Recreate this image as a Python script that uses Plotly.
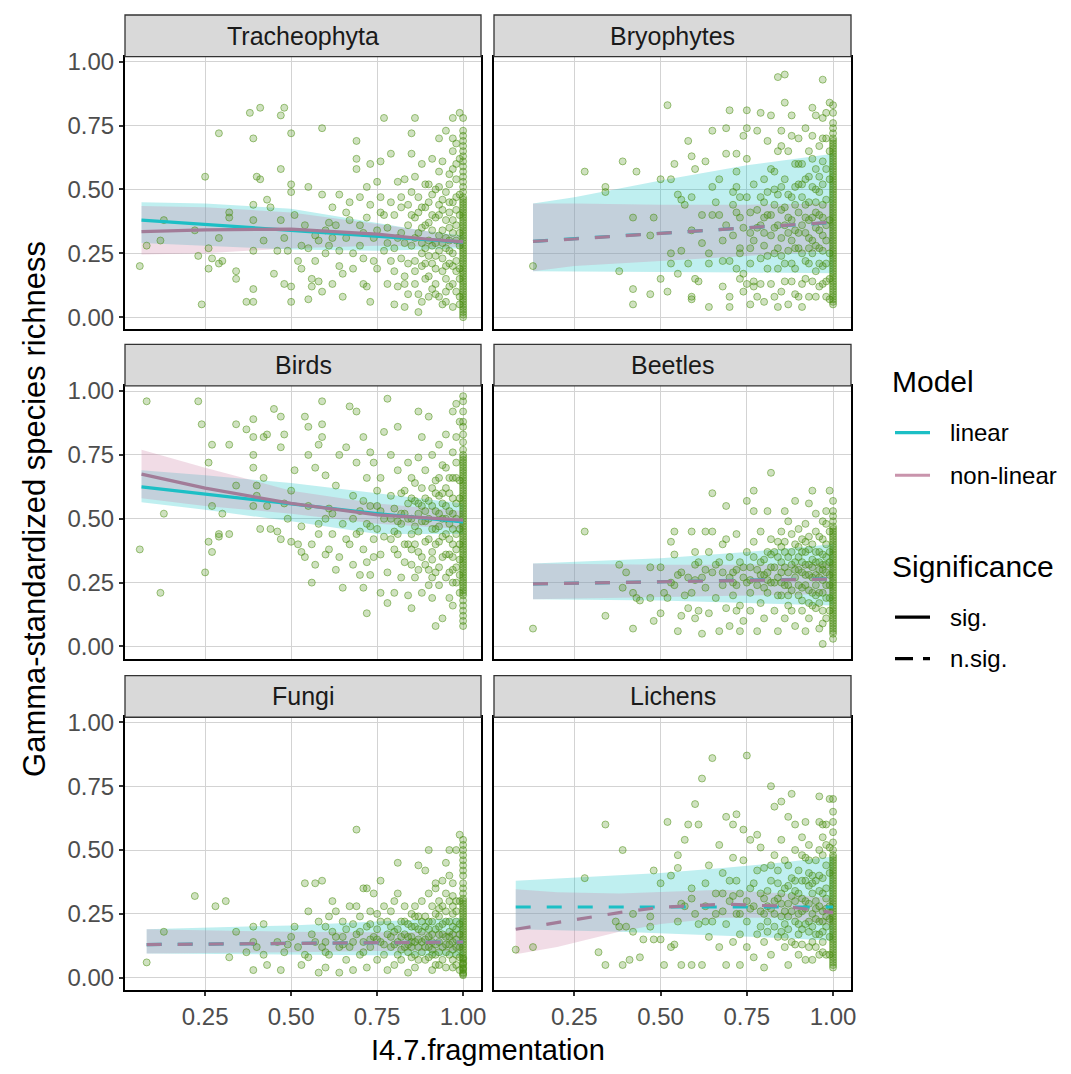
import plotly.graph_objects as go

# ---------------- data ----------------
X_TICKS = [0.25, 0.50, 0.75, 1.00]
X_TICK_TEXT = ["0.25", "0.50", "0.75", "1.00"]
Y_TICKS = [0.0, 0.25, 0.50, 0.75, 1.00]
Y_TICK_TEXT = ["0.00", "0.25", "0.50", "0.75", "1.00"]

PANEL_NAMES = ["Tracheophyta", "Bryophytes", "Birds", "Beetles", "Fungi", "Lichens"]
PANEL_SIG = ["sig.", "n.sig.", "sig.", "n.sig.", "n.sig.", "n.sig."]

TRACH_PTS = [
(0.06,0.20),(0.08,0.28),(0.12,0.30),(0.13,0.38),(0.22,0.34),(0.23,0.24),(0.24,0.05),(0.25,0.55),(0.26,0.27),(0.27,0.23),
(0.26,0.19),(0.29,0.72),(0.29,0.31),(0.29,0.21),(0.30,0.22),(0.32,0.39),(0.32,0.41),(0.34,0.18),(0.34,0.15),(0.37,0.06),
(0.38,0.80),(0.39,0.70),(0.39,0.44),(0.39,0.38),(0.39,0.11),(0.39,0.06),(0.39,0.26),(0.40,0.55),(0.41,0.82),(0.41,0.54),
(0.42,0.30),(0.43,0.46),(0.44,0.43),(0.45,0.17),(0.46,0.26),(0.47,0.79),(0.47,0.58),(0.48,0.82),(0.47,0.38),(0.48,0.13),
(0.48,0.31),(0.49,0.26),(0.50,0.72),(0.50,0.52),(0.50,0.49),(0.50,0.12),(0.50,0.06),(0.51,0.40),(0.52,0.22),(0.53,0.19),
(0.54,0.36),(0.55,0.27),(0.55,0.51),(0.55,0.07),(0.56,0.15),(0.56,0.12),(0.57,0.22),(0.58,0.30),(0.58,0.14),(0.59,0.48),
(0.59,0.74),(0.59,0.10),(0.60,0.34),(0.60,0.25),(0.61,0.28),(0.62,0.43),(0.62,0.13),(0.63,0.36),(0.64,0.26),(0.64,0.48),
(0.65,0.08),(0.65,0.17),(0.66,0.31),(0.67,0.38),(0.68,0.19),(0.69,0.62),(0.69,0.58),(0.69,0.69),(0.70,0.47),(0.70,0.28),
(0.71,0.13),(0.71,0.23),(0.72,0.39),(0.72,0.51),(0.72,0.12),(0.73,0.06),(0.73,0.60),(0.74,0.31),(0.75,0.53),(0.75,0.19),
(0.76,0.61),(0.76,0.41),(0.77,0.78),(0.77,0.26),(0.78,0.13),(0.78,0.35),(0.79,0.64),(0.79,0.45),(0.80,0.18),(0.80,0.05),
(0.81,0.53),(0.81,0.31),(0.82,0.23),(0.82,0.43),(0.83,0.13),(0.83,0.54),(0.83,0.04),(0.84,0.36),(0.84,0.21),(0.85,0.72),
(0.85,0.49),(0.85,0.64),(0.85,0.28),(0.86,0.39),(0.86,0.78),(0.86,0.13),(0.87,0.47),(0.87,0.02),(0.88,0.60),(0.88,0.25),
(0.88,0.35),(0.89,0.15),(0.89,0.52),(0.89,0.43),(0.90,0.08),(0.90,0.30),(0.91,0.62),(0.91,0.21),(0.91,0.48),(0.92,0.39),
(0.92,0.13),(0.93,0.57),(0.93,0.26),(0.93,0.70),(0.93,0.44),(0.94,0.05),(0.94,0.34),(0.94,0.18),(0.94,0.61),(0.95,0.49),
(0.95,0.73),(0.95,0.27),(0.95,0.10),(0.96,0.41),(0.96,0.56),(0.96,0.21),(0.96,0.35),(0.97,0.65),(0.97,0.04),(0.97,0.45),
(0.97,0.25),(0.97,0.78),(0.97,0.13),(0.98,0.54),(0.98,0.36),(0.98,0.18),(0.98,0.60),(0.99,0.28),(0.99,0.48),(0.99,0.80),
(0.99,0.08),(0.80,0.40),(0.82,0.33),(0.84,0.44),(0.86,0.31),(0.88,0.20),(0.90,0.37),(0.92,0.29),(0.94,0.42),(0.96,0.30),
(0.98,0.22),(0.75,0.34),(0.78,0.29),(0.70,0.36),(0.66,0.41),(0.62,0.31),(0.90,0.16),(0.92,0.09),(0.95,0.06),(0.97,0.33),
(0.99,0.40),(0.87,0.09),(0.83,0.16),(0.79,0.22),(0.76,0.47),(0.89,0.27),(0.91,0.34),(0.93,0.51),(0.95,0.38),(0.98,0.47),
(0.99,0.15),(0.80,0.27),(0.81,0.12),(0.82,0.47),(0.83,0.29),(0.84,0.09),(0.85,0.40),(0.86,0.22),(0.86,0.55),(0.87,0.33),
(0.88,0.43),(0.88,0.06),(0.89,0.36),(0.90,0.24),(0.90,0.45),(0.91,0.11),(0.91,0.28),(0.92,0.50),(0.92,0.19),(0.93,0.32),
(0.93,0.08),(0.94,0.46),(0.94,0.23),(0.95,0.31),(0.95,0.15),(0.96,0.52),(0.96,0.26),(0.96,0.12),(0.97,0.38),(0.97,0.20),
(0.97,0.58),(0.98,0.30),(0.98,0.10),(0.98,0.42),(0.99,0.33),(0.99,0.19),(0.99,0.62),(0.99,0.05),(0.98,0.68),(0.97,0.70),
(0.96,0.45),(0.95,0.20),(0.94,0.29),(0.93,0.40),(0.92,0.24),(0.91,0.40),(0.90,0.52),(0.89,0.21),(0.88,0.29),(0.87,0.41),
(0.86,0.18),(0.77,0.40),(0.74,0.22),(0.73,0.44),(0.71,0.33),(0.68,0.25),(0.67,0.45),(0.64,0.20),(0.61,0.37),(0.57,0.32),
(0.53,0.28),
]
TRACH_EDGE = [0.00,0.01,0.02,0.03,0.04,0.05,0.06,0.07,0.08,0.09,0.10,0.11,0.12,0.13,0.14,0.15,0.16,0.17,0.18,0.19,0.20,
              0.21,0.22,0.23,0.24,0.25,0.26,0.27,0.28,0.29,0.30,0.31,0.32,0.33,0.34,0.35,0.36,0.37,0.38,0.39,0.40,0.41,
              0.42,0.43,0.44,0.45,0.46,0.47,0.49,0.51,0.53,0.55,0.57,0.59,0.61,0.63,0.65,0.67,0.69,0.71,0.73,0.78]
# columns: x, linear, linear low, linear high, non-linear, non-linear low, non-linear high
TRACH_FIT = [
(0.065, 0.380, 0.290, 0.450, 0.335, 0.245, 0.435),
(0.25,  0.363, 0.280, 0.445, 0.342, 0.250, 0.430),
(0.50,  0.340, 0.265, 0.425, 0.345, 0.270, 0.410),
(0.75,  0.317, 0.260, 0.370, 0.325, 0.280, 0.365),
(0.90,  0.303, 0.265, 0.335, 0.305, 0.278, 0.335),
(1.00,  0.294, 0.270, 0.320, 0.295, 0.275, 0.315),
]

BRYO_PTS = [
(0.13,0.20),(0.28,0.57),(0.34,0.51),(0.34,0.49),(0.38,0.18),(0.39,0.61),(0.42,0.11),(0.42,0.39),(0.42,0.05),(0.43,0.57),
(0.47,0.09),(0.48,0.39),(0.47,0.32),(0.50,0.15),(0.50,0.54),(0.52,0.10),(0.52,0.83),(0.53,0.25),(0.53,0.21),(0.53,0.54),
(0.54,0.60),(0.55,0.17),(0.55,0.48),(0.56,0.26),(0.56,0.46),(0.57,0.44),(0.58,0.21),(0.58,0.69),(0.59,0.34),(0.59,0.08),
(0.59,0.63),(0.59,0.47),(0.59,0.07),(0.60,0.15),(0.60,0.58),(0.61,0.14),(0.62,0.40),(0.63,0.61),(0.64,0.21),(0.64,0.25),
(0.64,0.04),(0.65,0.73),(0.65,0.51),(0.65,0.40),(0.67,0.40),(0.67,0.54),(0.68,0.12),(0.68,0.22),(0.69,0.64),(0.69,0.74),
(0.69,0.36),(0.70,0.04),(0.70,0.08),(0.70,0.22),(0.70,0.81),(0.71,0.32),(0.71,0.49),(0.72,0.19),(0.72,0.57),(0.72,0.64),
(0.72,0.41),(0.72,0.51),(0.73,0.15),(0.73,0.27),(0.73,0.47),(0.73,0.25),(0.74,0.10),(0.74,0.71),(0.74,0.17),(0.74,0.35),
(0.75,0.13),(0.75,0.62),(0.75,0.81),(0.75,0.74),(0.76,0.21),(0.76,0.05),(0.76,0.41),(0.76,0.27),(0.77,0.14),(0.77,0.52),
(0.77,0.12),(0.78,0.35),(0.78,0.08),(0.78,0.73),(0.79,0.23),(0.79,0.80),(0.79,0.47),(0.79,0.13),(0.80,0.28),(0.80,0.54),
(0.80,0.06),(0.80,0.39),(0.81,0.19),(0.81,0.69),(0.81,0.49),(0.82,0.79),(0.82,0.32),(0.82,0.13),(0.83,0.57),(0.83,0.25),
(0.83,0.44),(0.84,0.04),(0.84,0.65),(0.84,0.94),(0.84,0.36),(0.84,0.19),(0.85,0.51),(0.85,0.73),(0.85,0.10),(0.85,0.31),
(0.85,0.67),(0.86,0.43),(0.86,0.84),(0.86,0.95),(0.86,0.21),(0.86,0.54),(0.87,0.05),(0.87,0.39),(0.87,0.65),(0.87,0.26),
(0.88,0.47),(0.88,0.14),(0.88,0.71),(0.88,0.79),(0.89,0.34),(0.89,0.51),(0.89,0.19),(0.89,0.60),(0.90,0.41),(0.90,0.08),
(0.90,0.27),(0.90,0.70),(0.91,0.47),(0.91,0.13),(0.91,0.04),(0.91,0.36),(0.92,0.54),(0.92,0.22),(0.92,0.74),(0.92,0.44),
(0.93,0.31),(0.93,0.08),(0.93,0.65),(0.93,0.21),(0.94,0.82),(0.94,0.39),(0.94,0.51),(0.94,0.14),(0.94,0.71),(0.95,0.28),
(0.95,0.58),(0.95,0.79),(0.95,0.41),(0.95,0.08),(0.96,0.21),(0.96,0.67),(0.96,0.34),(0.96,0.49),(0.97,0.93),(0.97,0.13),
(0.97,0.61),(0.97,0.26),(0.97,0.78),(0.97,0.44),(0.98,0.08),(0.98,0.21),(0.98,0.36),(0.98,0.70),(0.99,0.54),(0.99,0.84),
(0.99,0.15),(0.88,0.30),(0.90,0.52),(0.92,0.33),(0.94,0.25),(0.96,0.40),(0.98,0.30),(0.86,0.36),(0.84,0.48),(0.82,0.40),
(0.80,0.45),(0.78,0.42),(0.76,0.33),(0.93,0.45),(0.91,0.60),(0.97,0.52),(0.95,0.18),(0.89,0.09),(0.83,0.08),(0.80,0.33),
(0.81,0.24),(0.82,0.58),(0.83,0.35),(0.84,0.27),(0.85,0.42),(0.86,0.14),(0.87,0.48),(0.88,0.38),(0.88,0.21),(0.89,0.44),
(0.90,0.33),(0.90,0.60),(0.91,0.25),(0.92,0.39),(0.92,0.15),(0.93,0.55),(0.93,0.38),(0.94,0.30),(0.94,0.62),(0.95,0.45),
(0.95,0.35),(0.96,0.27),(0.96,0.55),(0.96,0.12),(0.97,0.39),(0.97,0.20),(0.97,0.70),(0.98,0.46),(0.98,0.14),(0.98,0.58),
(0.99,0.38),(0.99,0.25),(0.99,0.65),(0.99,0.07),(0.98,0.80),(0.97,0.32),(0.95,0.50),(0.93,0.27),(0.91,0.52),(0.89,0.27),
(0.87,0.33),(0.85,0.24),(0.83,0.50),(0.81,0.40),(0.79,0.36),(0.77,0.30),(0.75,0.47),(0.73,0.39),(0.71,0.44),(0.68,0.30),
(0.66,0.45),(0.62,0.29),
]
BRYO_EDGE = [0.05,0.06,0.07,0.08,0.09,0.10,0.11,0.12,0.13,0.14,0.15,0.16,0.17,0.18,0.19,0.20,0.21,0.22,0.23,0.24,0.25,
             0.26,0.27,0.28,0.29,0.30,0.31,0.32,0.33,0.34,0.35,0.36,0.37,0.38,0.39,0.40,0.41,0.42,0.43,0.44,0.45,0.46,
             0.47,0.48,0.49,0.50,0.51,0.52,0.53,0.54,0.55,0.56,0.57,0.58,0.59,0.60,0.61,0.62,0.63,0.64,0.65,0.66,0.67,
             0.68,0.69,0.70,0.72,0.74,0.76,0.80,0.83]
BRYO_FIT = [
(0.13, 0.297, 0.180, 0.445, 0.297, 0.180, 0.445),
(0.25, 0.307, 0.180, 0.470, 0.306, 0.200, 0.445),
(0.50, 0.328, 0.178, 0.535, 0.328, 0.220, 0.440),
(0.75, 0.350, 0.175, 0.595, 0.350, 0.240, 0.440),
(1.00, 0.371, 0.172, 0.640, 0.372, 0.260, 0.445),
]

BIRDS_PTS = [
(0.06,0.38),(0.08,0.96),(0.12,0.21),(0.13,0.52),(0.23,0.96),(0.24,0.87),(0.25,0.29),(0.26,0.41),(0.26,0.72),(0.27,0.37),
(0.27,0.55),(0.27,0.79),(0.29,0.44),(0.29,0.43),(0.30,0.52),(0.32,0.79),(0.32,0.44),(0.34,0.87),(0.34,0.63),(0.37,0.85),
(0.39,0.89),(0.39,0.70),(0.39,0.55),(0.39,0.75),(0.39,0.82),(0.40,0.63),(0.40,0.59),(0.41,0.46),(0.42,0.82),(0.42,0.66),
(0.43,0.83),(0.43,0.55),(0.44,0.46),(0.45,0.93),(0.46,0.45),(0.47,0.42),(0.47,0.90),(0.47,0.78),(0.48,0.83),(0.48,0.56),
(0.49,0.50),(0.50,0.61),(0.50,0.41),(0.51,0.69),(0.52,0.40),(0.53,0.47),(0.53,0.37),(0.54,0.35),(0.54,0.90),(0.55,0.75),
(0.55,0.55),(0.55,0.86),(0.56,0.40),(0.56,0.25),(0.57,0.70),(0.57,0.32),(0.58,0.79),(0.58,0.44),(0.59,0.87),(0.59,0.82),
(0.59,0.96),(0.60,0.50),(0.60,0.36),(0.60,0.67),(0.61,0.54),(0.61,0.38),(0.62,0.44),(0.63,0.30),(0.63,0.63),(0.64,0.35),
(0.64,0.75),(0.65,0.23),(0.65,0.48),(0.66,0.78),(0.67,0.40),(0.67,0.94),(0.68,0.59),(0.68,0.32),(0.69,0.92),(0.69,0.44),
(0.69,0.72),(0.70,0.28),(0.70,0.53),(0.71,0.38),(0.71,0.23),(0.71,0.82),(0.72,0.66),(0.72,0.13),(0.72,0.48),(0.72,0.33),
(0.73,0.76),(0.73,0.55),(0.73,0.28),(0.74,0.72),(0.74,0.42),(0.75,0.61),(0.75,0.46),(0.76,0.21),(0.76,0.36),(0.76,0.66),
(0.77,0.84),(0.77,0.50),(0.78,0.97),(0.78,0.17),(0.78,0.29),(0.79,0.59),(0.79,0.75),(0.79,0.42),(0.80,0.21),(0.80,0.54),
(0.81,0.36),(0.81,0.69),(0.81,0.86),(0.82,0.48),(0.82,0.27),(0.83,0.61),(0.83,0.40),(0.84,0.72),(0.84,0.20),(0.84,0.50),
(0.85,0.32),(0.85,0.15),(0.85,0.66),(0.85,0.44),(0.86,0.57),(0.86,0.27),(0.87,0.92),(0.87,0.37),(0.87,0.74),(0.87,0.52),
(0.88,0.21),(0.88,0.62),(0.88,0.82),(0.89,0.41),(0.89,0.32),(0.89,0.69),(0.89,0.49),(0.90,0.24),(0.90,0.90),(0.90,0.57),
(0.91,0.37),(0.91,0.19),(0.91,0.75),(0.91,0.46),(0.92,0.65),(0.92,0.29),(0.92,0.53),(0.92,0.08),(0.93,0.41),(0.93,0.79),
(0.93,0.24),(0.93,0.59),(0.94,0.35),(0.94,0.11),(0.94,0.50),(0.94,0.71),(0.95,0.27),(0.95,0.44),(0.95,0.83),(0.95,0.55),
(0.96,0.19),(0.96,0.36),(0.96,0.66),(0.96,0.48),(0.97,0.92),(0.97,0.25),(0.97,0.58),(0.97,0.40),(0.97,0.76),(0.97,0.16),
(0.98,0.50),(0.98,0.31),(0.98,0.66),(0.98,0.44),(0.98,0.95),(0.99,0.21),(0.99,0.58),(0.99,0.88),(0.80,0.45),(0.82,0.52),
(0.84,0.40),(0.86,0.47),(0.88,0.55),(0.90,0.42),(0.92,0.46),(0.94,0.60),(0.96,0.53),(0.98,0.38),(0.85,0.58),(0.87,0.30),
(0.91,0.34),(0.93,0.52),(0.95,0.62),(0.97,0.46),(0.99,0.34),(0.76,0.53),(0.74,0.35),(0.70,0.45),(0.80,0.38),(0.81,0.49),
(0.82,0.60),(0.83,0.33),(0.84,0.56),(0.85,0.50),(0.86,0.40),(0.86,0.64),(0.87,0.45),(0.88,0.35),(0.88,0.49),(0.89,0.58),
(0.90,0.30),(0.90,0.50),(0.91,0.55),(0.91,0.27),(0.92,0.40),(0.92,0.60),(0.93,0.47),(0.93,0.31),(0.94,0.43),(0.94,0.56),
(0.95,0.36),(0.95,0.50),(0.96,0.42),(0.96,0.60),(0.96,0.29),(0.97,0.52),(0.97,0.35),(0.97,0.66),(0.98,0.56),(0.98,0.25),
(0.98,0.72),(0.99,0.46),(0.99,0.40),(0.99,0.65),(0.99,0.28),(0.98,0.82),(0.97,0.30),(0.95,0.70),(0.93,0.66),(0.91,0.62),
(0.89,0.53),(0.87,0.56),(0.85,0.38),(0.83,0.52),(0.81,0.44),(0.79,0.50),(0.77,0.43),(0.75,0.55),(0.73,0.47),(0.71,0.57),
(0.68,0.50),(0.66,0.42),(0.62,0.52),(0.58,0.48),
]
BIRDS_EDGE = [0.08,0.10,0.12,0.14,0.16,0.18,0.20,0.21,0.22,0.23,0.24,0.25,0.26,0.27,0.28,0.29,0.30,0.31,0.32,0.33,0.34,
              0.35,0.36,0.37,0.38,0.39,0.40,0.41,0.42,0.43,0.44,0.45,0.46,0.47,0.48,0.49,0.50,0.51,0.52,0.53,0.54,0.55,
              0.56,0.57,0.58,0.59,0.60,0.61,0.62,0.63,0.64,0.65,0.66,0.67,0.68,0.69,0.70,0.71,0.72,0.73,0.74,0.75,0.77,
              0.80,0.83,0.86,0.88,0.92,0.96,0.98]
BIRDS_FIT = [
(0.065, 0.625, 0.565, 0.690, 0.675, 0.580, 0.770),
(0.25,  0.597, 0.535, 0.670, 0.620, 0.550, 0.700),
(0.50,  0.558, 0.490, 0.640, 0.560, 0.520, 0.610),
(0.75,  0.520, 0.440, 0.600, 0.515, 0.480, 0.560),
(1.00,  0.488, 0.440, 0.560, 0.495, 0.460, 0.530),
]

BEETLE_PTS = [
(0.13,0.07),(0.28,0.45),(0.34,0.12),(0.38,0.32),(0.39,0.23),(0.40,0.29),(0.42,0.21),(0.42,0.07),(0.43,0.19),(0.44,0.18),
(0.47,0.31),(0.47,0.19),(0.48,0.10),(0.50,0.13),(0.50,0.31),(0.51,0.21),(0.52,0.19),(0.53,0.41),(0.53,0.25),(0.54,0.36),
(0.54,0.45),(0.54,0.24),(0.55,0.06),(0.55,0.28),(0.56,0.12),(0.56,0.29),(0.57,0.20),(0.58,0.27),(0.58,0.15),(0.59,0.45),
(0.59,0.21),(0.60,0.37),(0.60,0.32),(0.60,0.11),(0.61,0.14),(0.61,0.33),(0.62,0.05),(0.62,0.27),(0.63,0.45),(0.63,0.23),
(0.64,0.37),(0.64,0.13),(0.65,0.60),(0.65,0.45),(0.65,0.29),(0.66,0.19),(0.67,0.33),(0.67,0.06),(0.68,0.24),(0.68,0.40),
(0.69,0.42),(0.69,0.15),(0.69,0.55),(0.70,0.27),(0.70,0.08),(0.70,0.35),(0.71,0.20),(0.71,0.29),(0.72,0.14),(0.72,0.44),
(0.72,0.24),(0.73,0.06),(0.73,0.33),(0.73,0.16),(0.74,0.27),(0.74,0.10),(0.75,0.37),(0.75,0.57),(0.76,0.21),(0.76,0.31),
(0.76,0.14),(0.77,0.53),(0.77,0.61),(0.77,0.41),(0.78,0.24),(0.78,0.06),(0.79,0.33),(0.79,0.17),(0.79,0.45),(0.80,0.28),
(0.80,0.11),(0.81,0.37),(0.81,0.53),(0.81,0.21),(0.82,0.68),(0.82,0.42),(0.82,0.31),(0.83,0.14),(0.83,0.25),(0.84,0.41),
(0.84,0.06),(0.84,0.35),(0.85,0.20),(0.85,0.45),(0.85,0.29),(0.86,0.53),(0.86,0.11),(0.86,0.37),(0.87,0.24),(0.87,0.49),
(0.87,0.16),(0.88,0.32),(0.88,0.44),(0.89,0.08),(0.89,0.27),(0.89,0.40),(0.89,0.57),(0.90,0.20),(0.90,0.35),(0.90,0.46),
(0.91,0.14),(0.91,0.29),(0.91,0.42),(0.92,0.24),(0.92,0.06),(0.92,0.37),(0.92,0.48),(0.93,0.17),(0.93,0.32),(0.93,0.56),
(0.93,0.11),(0.94,0.27),(0.94,0.40),(0.94,0.61),(0.94,0.21),(0.95,0.52),(0.95,0.33),(0.95,0.15),(0.95,0.45),(0.96,0.27),
(0.96,0.07),(0.96,0.37),(0.96,0.21),(0.97,0.49),(0.97,0.14),(0.97,0.32),(0.97,0.01),(0.97,0.42),(0.98,0.24),(0.98,0.11),
(0.98,0.35),(0.98,0.48),(0.99,0.19),(0.99,0.61),(0.99,0.28),(0.80,0.23),(0.82,0.36),(0.84,0.27),(0.86,0.31),(0.88,0.22),
(0.90,0.30),(0.92,0.28),(0.94,0.34),(0.96,0.30),(0.98,0.29),(0.85,0.39),(0.87,0.35),(0.91,0.23),(0.93,0.38),(0.95,0.24),
(0.97,0.26),(0.99,0.37),(0.78,0.30),(0.75,0.25),(0.72,0.30),(0.80,0.34),(0.81,0.29),(0.82,0.25),(0.83,0.37),(0.84,0.20),
(0.85,0.33),(0.86,0.24),(0.86,0.41),(0.87,0.29),(0.88,0.37),(0.88,0.14),(0.89,0.33),(0.90,0.24),(0.90,0.39),(0.91,0.33),
(0.91,0.18),(0.92,0.32),(0.92,0.41),(0.93,0.22),(0.93,0.28),(0.94,0.31),(0.94,0.16),(0.95,0.28),(0.95,0.37),(0.96,0.33),
(0.96,0.43),(0.96,0.17),(0.97,0.30),(0.97,0.21),(0.97,0.36),(0.98,0.32),(0.98,0.19),(0.98,0.40),(0.99,0.24),(0.99,0.33),
(0.99,0.45),(0.99,0.14),(0.98,0.53),(0.97,0.09),(0.95,0.20),(0.93,0.43),(0.91,0.37),(0.89,0.30),(0.87,0.20),(0.85,0.25),
(0.83,0.31),(0.81,0.26),(0.79,0.28),(0.77,0.35),(0.76,0.26),(0.74,0.31),(0.71,0.25),(0.68,0.29),(0.66,0.32),(0.63,0.30),
(0.60,0.26),
]
BEETLE_EDGE = [0.03,0.05,0.06,0.07,0.08,0.09,0.10,0.11,0.12,0.13,0.14,0.15,0.16,0.17,0.18,0.19,0.20,0.21,0.22,0.23,0.24,
               0.25,0.26,0.27,0.28,0.29,0.30,0.31,0.32,0.33,0.34,0.35,0.36,0.37,0.38,0.39,0.40,0.41,0.42,0.43,0.44,0.45,
               0.46,0.47,0.49,0.51,0.53,0.57]
BEETLE_FIT = [
(0.13, 0.245, 0.185, 0.325, 0.245, 0.185, 0.325),
(0.50, 0.253, 0.180, 0.345, 0.252, 0.195, 0.320),
(0.75, 0.259, 0.170, 0.370, 0.258, 0.200, 0.320),
(1.00, 0.265, 0.160, 0.400, 0.264, 0.205, 0.325),
]

FUNGI_PTS = [
(0.08,0.06),(0.13,0.18),(0.22,0.32),(0.28,0.28),(0.31,0.30),(0.32,0.08),(0.34,0.18),(0.37,0.10),(0.39,0.20),(0.39,0.03),
(0.39,0.14),(0.40,0.12),(0.42,0.21),(0.42,0.09),(0.43,0.05),(0.46,0.14),(0.47,0.03),(0.48,0.10),(0.49,0.13),(0.50,0.16),
(0.51,0.20),(0.52,0.12),(0.53,0.05),(0.54,0.37),(0.54,0.09),(0.55,0.26),(0.55,0.08),(0.56,0.17),(0.57,0.37),(0.57,0.14),
(0.58,0.22),(0.58,0.02),(0.59,0.12),(0.59,0.38),(0.60,0.20),(0.60,0.04),(0.60,0.14),(0.61,0.24),(0.61,0.09),(0.62,0.30),
(0.62,0.18),(0.63,0.26),(0.64,0.12),(0.64,0.02),(0.65,0.22),(0.65,0.16),(0.66,0.07),(0.67,0.28),(0.67,0.12),(0.68,0.21),
(0.68,0.03),(0.69,0.58),(0.69,0.17),(0.69,0.28),(0.70,0.09),(0.70,0.24),(0.71,0.14),(0.71,0.35),(0.72,0.20),(0.72,0.04),
(0.72,0.35),(0.73,0.26),(0.73,0.12),(0.73,0.21),(0.74,0.33),(0.74,0.16),(0.75,0.07),(0.75,0.25),(0.76,0.38),(0.76,0.14),
(0.76,0.22),(0.77,0.28),(0.77,0.09),(0.78,0.17),(0.78,0.03),(0.79,0.26),(0.79,0.12),(0.79,0.20),(0.80,0.30),(0.80,0.05),
(0.81,0.14),(0.81,0.33),(0.81,0.45),(0.82,0.22),(0.82,0.11),(0.83,0.17),(0.83,0.28),(0.84,0.02),(0.84,0.13),(0.84,0.21),
(0.85,0.08),(0.85,0.25),(0.85,0.16),(0.86,0.28),(0.86,0.04),(0.86,0.20),(0.87,0.12),(0.87,0.44),(0.87,0.24),(0.88,0.14),
(0.88,0.30),(0.89,0.07),(0.89,0.20),(0.89,0.42),(0.90,0.33),(0.90,0.12),(0.90,0.50),(0.90,0.22),(0.91,0.28),(0.91,0.03),
(0.91,0.17),(0.92,0.35),(0.92,0.09),(0.92,0.25),(0.92,0.37),(0.93,0.14),(0.93,0.30),(0.93,0.05),(0.93,0.20),(0.94,0.38),
(0.94,0.12),(0.94,0.28),(0.95,0.45),(0.95,0.16),(0.95,0.33),(0.95,0.04),(0.96,0.22),(0.96,0.40),(0.96,0.13),(0.96,0.50),
(0.97,0.28),(0.97,0.07),(0.97,0.37),(0.97,0.20),(0.97,0.14),(0.98,0.50),(0.98,0.30),(0.98,0.09),(0.98,0.22),(0.99,0.56),
(0.99,0.03),(0.80,0.18),(0.82,0.16),(0.84,0.10),(0.86,0.14),(0.88,0.18),(0.90,0.16),(0.92,0.19),(0.94,0.17),(0.96,0.18),
(0.98,0.15),(0.85,0.12),(0.87,0.19),(0.89,0.15),(0.91,0.11),(0.93,0.24),(0.95,0.10),(0.97,0.25),(0.99,0.12),(0.75,0.15),
(0.70,0.18),(0.65,0.13),(0.78,0.22),(0.80,0.13),(0.81,0.19),(0.82,0.07),(0.83,0.12),(0.84,0.16),(0.85,0.20),(0.86,0.09),
(0.86,0.24),(0.87,0.15),(0.88,0.10),(0.88,0.22),(0.89,0.12),(0.90,0.19),(0.90,0.08),(0.91,0.14),(0.91,0.22),(0.92,0.13),
(0.92,0.05),(0.93,0.17),(0.93,0.10),(0.94,0.21),(0.94,0.07),(0.95,0.13),(0.95,0.26),(0.96,0.09),(0.96,0.16),(0.96,0.30),
(0.97,0.11),(0.97,0.17),(0.97,0.04),(0.98,0.12),(0.98,0.19),(0.98,0.26),(0.99,0.08),(0.99,0.17),(0.99,0.21),(0.99,0.30),
(0.98,0.05),(0.97,0.32),(0.95,0.22),(0.93,0.27),(0.91,0.09),(0.89,0.24),(0.87,0.07),(0.85,0.14),(0.83,0.22),(0.81,0.09),
(0.79,0.16),(0.77,0.13),(0.75,0.19),(0.73,0.15),(0.71,0.10),(0.68,0.14),(0.66,0.19),(0.63,0.16),(0.60,0.10),
]
FUNGI_EDGE = [0.01,0.015,0.02,0.03,0.035,0.04,0.05,0.055,0.06,0.07,0.075,0.08,0.09,0.10,0.11,0.12,0.13,0.14,0.15,0.16,
              0.17,0.18,0.19,0.20,0.21,0.22,0.23,0.24,0.25,0.26,0.27,0.28,0.29,0.30,0.31,0.33,0.35,0.37,0.40,0.42,0.44,
              0.46,0.48,0.50,0.52,0.54]
FUNGI_FIT = [
(0.08, 0.130, 0.095, 0.190, 0.130, 0.095, 0.190),
(0.50, 0.135, 0.090, 0.205, 0.135, 0.100, 0.180),
(0.75, 0.138, 0.088, 0.220, 0.138, 0.105, 0.178),
(1.00, 0.140, 0.085, 0.235, 0.140, 0.105, 0.180),
]

LICHEN_PTS = [
(0.08,0.11),(0.13,0.12),(0.28,0.39),(0.32,0.10),(0.34,0.05),(0.34,0.60),(0.37,0.22),(0.38,0.20),(0.39,0.50),(0.39,0.05),
(0.40,0.20),(0.41,0.07),(0.42,0.25),(0.42,0.18),(0.44,0.08),(0.45,0.15),(0.47,0.24),(0.47,0.20),(0.48,0.42),(0.48,0.15),
(0.50,0.15),(0.50,0.37),(0.51,0.05),(0.52,0.61),(0.53,0.12),(0.53,0.40),(0.54,0.13),(0.55,0.48),(0.55,0.22),(0.55,0.43),
(0.56,0.05),(0.56,0.29),(0.57,0.28),(0.57,0.54),(0.58,0.60),(0.59,0.35),(0.59,0.05),(0.60,0.25),(0.60,0.68),(0.61,0.60),
(0.61,0.21),(0.62,0.05),(0.62,0.78),(0.63,0.37),(0.63,0.28),(0.64,0.44),(0.64,0.16),(0.65,0.86),(0.65,0.22),(0.66,0.33),
(0.67,0.52),(0.67,0.12),(0.68,0.26),(0.68,0.41),(0.69,0.05),(0.69,0.63),(0.69,0.21),(0.70,0.38),(0.70,0.30),(0.71,0.60),
(0.71,0.14),(0.71,0.47),(0.72,0.25),(0.72,0.38),(0.72,0.64),(0.73,0.05),(0.73,0.17),(0.73,0.33),(0.74,0.58),(0.74,0.46),
(0.75,0.87),(0.75,0.22),(0.75,0.12),(0.76,0.35),(0.76,0.54),(0.77,0.28),(0.77,0.08),(0.78,0.42),(0.78,0.56),(0.79,0.20),
(0.79,0.33),(0.79,0.51),(0.80,0.14),(0.80,0.04),(0.80,0.43),(0.81,0.28),(0.81,0.22),(0.82,0.38),(0.82,0.75),(0.82,0.09),
(0.83,0.48),(0.83,0.67),(0.83,0.30),(0.84,0.16),(0.84,0.42),(0.85,0.24),(0.85,0.54),(0.85,0.69),(0.86,0.12),(0.86,0.35),
(0.86,0.21),(0.87,0.63),(0.87,0.44),(0.87,0.05),(0.87,0.29),(0.88,0.14),(0.88,0.72),(0.89,0.38),(0.89,0.22),(0.89,0.50),
(0.89,0.60),(0.90,0.09),(0.90,0.33),(0.90,0.17),(0.91,0.48),(0.91,0.26),(0.91,0.55),(0.92,0.07),(0.92,0.38),(0.92,0.61),
(0.92,0.21),(0.93,0.46),(0.93,0.29),(0.93,0.52),(0.93,0.12),(0.94,0.40),(0.94,0.25),(0.94,0.07),(0.94,0.37),(0.95,0.17),
(0.95,0.46),(0.95,0.30),(0.96,0.61),(0.96,0.09),(0.96,0.71),(0.96,0.40),(0.96,0.22),(0.97,0.48),(0.97,0.14),(0.97,0.33),
(0.97,0.60),(0.97,0.26),(0.98,0.44),(0.98,0.09),(0.98,0.35),(0.98,0.20),(0.99,0.51),(0.99,0.70),(0.82,0.27),(0.84,0.31),
(0.86,0.26),(0.88,0.32),(0.90,0.25),(0.92,0.30),(0.94,0.20),(0.96,0.28),(0.98,0.27),(0.85,0.18),(0.87,0.36),(0.89,0.13),
(0.91,0.19),(0.93,0.36),(0.95,0.23),(0.97,0.18),(0.99,0.23),(0.80,0.25),(0.78,0.17),(0.76,0.27),(0.80,0.31),(0.81,0.18),
(0.82,0.44),(0.83,0.25),(0.84,0.37),(0.85,0.29),(0.86,0.46),(0.86,0.16),(0.87,0.24),(0.88,0.39),(0.88,0.26),(0.89,0.30),
(0.90,0.42),(0.90,0.21),(0.91,0.31),(0.91,0.13),(0.92,0.27),(0.92,0.47),(0.93,0.22),(0.93,0.41),(0.94,0.33),(0.94,0.14),
(0.95,0.38),(0.95,0.27),(0.96,0.34),(0.96,0.17),(0.96,0.50),(0.97,0.22),(0.97,0.39),(0.97,0.10),(0.98,0.31),(0.98,0.24),
(0.98,0.52),(0.99,0.28),(0.99,0.16),(0.99,0.41),(0.99,0.09),(0.98,0.60),(0.97,0.55),(0.95,0.12),(0.93,0.18),(0.91,0.38),
(0.89,0.34),(0.87,0.19),(0.85,0.33),(0.83,0.20),(0.81,0.34),(0.79,0.26),(0.77,0.37),(0.75,0.30),(0.73,0.25),(0.71,0.32),
(0.68,0.33),(0.66,0.25),(0.63,0.22),(0.59,0.31),
]
LICHEN_EDGE = [0.04,0.05,0.06,0.07,0.08,0.09,0.10,0.11,0.12,0.13,0.14,0.15,0.16,0.17,0.18,0.19,0.20,0.21,0.22,0.23,0.24,
               0.25,0.26,0.27,0.28,0.29,0.30,0.31,0.32,0.33,0.34,0.35,0.36,0.37,0.38,0.39,0.40,0.41,0.42,0.43,0.44,0.45,
               0.46,0.47,0.48,0.50,0.53,0.57,0.61,0.65,0.70]
LICHEN_FIT = [
(0.08, 0.277, 0.190, 0.380, 0.190, 0.092, 0.346),
(0.20, 0.277, 0.186, 0.388, 0.216, 0.120, 0.335),
(0.38, 0.277, 0.180, 0.400, 0.255, 0.180, 0.330),
(0.50, 0.277, 0.175, 0.410, 0.276, 0.210, 0.335),
(0.68, 0.277, 0.165, 0.430, 0.288, 0.235, 0.345),
(0.86, 0.277, 0.155, 0.452, 0.280, 0.235, 0.330),
(1.00, 0.277, 0.145, 0.475, 0.255, 0.205, 0.310),
]

PANEL_PTS = [TRACH_PTS, BRYO_PTS, BIRDS_PTS, BEETLE_PTS, FUNGI_PTS, LICHEN_PTS]
PANEL_EDGE = [TRACH_EDGE, BRYO_EDGE, BIRDS_EDGE, BEETLE_EDGE, FUNGI_EDGE, LICHEN_EDGE]
PANEL_FIT = [TRACH_FIT, BRYO_FIT, BIRDS_FIT, BEETLE_FIT, FUNGI_FIT, LICHEN_FIT]

# ---------------- styling / layout ----------------
FONT = "Liberation Sans, Arial, Helvetica, sans-serif"
LIN_COLOR = "#1CBFC5"
LIN_FILL = "rgba(0,191,196,0.25)"
NL_COLOR = "rgb(162,124,152)"
NL_KEY_COLOR = "rgb(201,148,172)"
NL_FILL = "rgba(205,130,165,0.28)"
PT_FILL = "rgba(70,140,10,0.26)"
PT_LINE = "rgba(70,140,10,0.5)"
DASH = "15px,16px"

# the page body adds an 8px margin, so the figure is 8px smaller than the window
OFF = 8
W, H = 1071 - OFF, 1074 - OFF
ML, MR, MT, MB = 125 - OFF, 220, 7 - OFF + 1, 84
PW, PH = W - ML - MR, H - MT - MB
TOP_PX = MT + OFF          # window y of the top of the plotting area
BOT_PX = H - MB + OFF      # window y of the bottom of the plotting area


def fx(px):  # window pixel -> paper x
    return (px - OFF - ML) / PW


def fy(py):  # window pixel -> paper y
    return (BOT_PX - py) / PH


COL_PX = [(125, 481), (494, 851)]
ROW_PX = [(49, 324), (381, 656), (715, 990)]
STRIP_H = 42
X_RANGE = [0.017, 1.052]
Y_RANGE = [-0.048, 1.02]

fig = go.Figure()
shapes, annotations = [], []
layout_axes = {}

for i, name in enumerate(PANEL_NAMES):
    r, c = divmod(i, 2)
    suf = "" if i == 0 else str(i + 1)
    xa, ya = "x" + suf, "y" + suf
    fit = PANEL_FIT[i]
    fxs = [f[0] for f in fit]
    lin = [f[1] for f in fit]
    lin_lo = [f[2] for f in fit]
    lin_hi = [f[3] for f in fit]
    nl = [f[4] for f in fit]
    nl_lo = [f[5] for f in fit]
    nl_hi = [f[6] for f in fit]
    dash = "solid" if PANEL_SIG[i] == "sig." else DASH

    fig.add_trace(go.Scatter(x=fxs + fxs[::-1], y=lin_hi + lin_lo[::-1], fill="toself",
                             fillcolor=LIN_FILL, line=dict(width=0), mode="lines",
                             xaxis=xa, yaxis=ya, hoverinfo="skip", showlegend=False))
    fig.add_trace(go.Scatter(x=fxs + fxs[::-1], y=nl_hi + nl_lo[::-1], fill="toself",
                             fillcolor=NL_FILL, line=dict(width=0), mode="lines",
                             xaxis=xa, yaxis=ya, hoverinfo="skip", showlegend=False))
    pts = PANEL_PTS[i]
    px_ = [p[0] for p in pts] + [1.0] * len(PANEL_EDGE[i])
    py_ = [p[1] for p in pts] + PANEL_EDGE[i]
    fig.add_trace(go.Scatter(x=px_, y=py_, mode="markers",
                             marker=dict(size=7, color=PT_FILL, line=dict(color=PT_LINE, width=1)),
                             xaxis=xa, yaxis=ya, hoverinfo="skip", showlegend=False))
    fig.add_trace(go.Scatter(x=fxs, y=lin, mode="lines",
                             line=dict(color=LIN_COLOR, width=3.2, dash=dash),
                             xaxis=xa, yaxis=ya, hoverinfo="skip", showlegend=False))
    fig.add_trace(go.Scatter(x=fxs, y=nl, mode="lines",
                             line=dict(color=NL_COLOR, width=3.2, dash=dash),
                             xaxis=xa, yaxis=ya, hoverinfo="skip", showlegend=False))

    x0, x1 = COL_PX[c]
    y0, y1 = ROW_PX[r]
    bottom = (r == 2)
    left = (c == 0)
    common = dict(ticklen=4, tickwidth=1.5, tickcolor="#333333",
                  tickfont=dict(family=FONT, size=24, color="#4D4D4D"),
                  showgrid=True, gridcolor="#D3D3D3", gridwidth=1.2, zeroline=False,
                  showline=True, mirror=True, linecolor="black", linewidth=2)
    layout_axes["xaxis" + suf] = dict(
        domain=[fx(x0), fx(x1)], range=X_RANGE, anchor=ya,
        tickvals=X_TICKS, ticktext=X_TICK_TEXT, showticklabels=bottom,
        ticks="outside" if bottom else "", **common)
    layout_axes["yaxis" + suf] = dict(
        domain=[fy(y1), fy(y0)], range=Y_RANGE, anchor=xa,
        tickvals=Y_TICKS, ticktext=Y_TICK_TEXT, showticklabels=left,
        ticks="outside" if left else "", **common)

    shapes.append(dict(type="rect", xref="paper", yref="paper",
                       x0=fx(x0), x1=fx(x1), y0=fy(y0), y1=fy(y0 - STRIP_H),
                       fillcolor="#D9D9D9", line=dict(color="#333333", width=1.3), layer="above"))
    annotations.append(dict(xref="paper", yref="paper", x=fx((x0 + x1) / 2), y=fy(y0 - STRIP_H / 2),
                            text=name, showarrow=False, xanchor="center", yanchor="middle",
                            font=dict(family=FONT, size=25, color="#1A1A1A")))

annotations.append(dict(xref="paper", yref="paper", x=fx(35), y=fy(505),
                        text="Gamma-standardized species richness",
                        textangle=-90, showarrow=False, xanchor="center", yanchor="middle",
                        font=dict(family=FONT, size=31, color="black")))
annotations.append(dict(xref="paper", yref="paper", x=fx(488), y=fy(1050), text="I4.7.fragmentation",
                        showarrow=False, xanchor="center", yanchor="middle",
                        font=dict(family=FONT, size=29, color="black")))

LEG_TITLE_X, LEG_KEY_X0, LEG_KEY_X1, LEG_TEXT_X = 890, 895, 930, 948
legend_titles = [("Model", 377), ("Significance", 563)]
legend_items = [("linear", 428, LIN_COLOR, "solid"), ("non-linear", 471, NL_KEY_COLOR, "solid"),
                ("sig.", 614, "black", "solid"), ("n.sig.", 656, "black", "18px,10px")]
for t, yy in legend_titles:
    annotations.append(dict(xref="paper", yref="paper", x=fx(LEG_TITLE_X), y=fy(yy), text=t,
                            showarrow=False, xanchor="left", yanchor="middle",
                            font=dict(family=FONT, size=30, color="black")))
for t, yy, col, d in legend_items:
    shapes.append(dict(type="line", xref="paper", yref="paper", x0=fx(LEG_KEY_X0), x1=fx(LEG_KEY_X1),
                       y0=fy(yy), y1=fy(yy), line=dict(color=col, width=3.2, dash=d)))
    annotations.append(dict(xref="paper", yref="paper", x=fx(LEG_TEXT_X), y=fy(yy), text=t,
                            showarrow=False, xanchor="left", yanchor="middle",
                            font=dict(family=FONT, size=24, color="black")))

fig.update_layout(width=W, height=H, margin=dict(l=ML, r=MR, t=MT, b=MB),
                  paper_bgcolor="white", plot_bgcolor="white", showlegend=False,
                  shapes=shapes, annotations=annotations, font=dict(family=FONT),
                  **layout_axes)

fig.write_html("out.html")
